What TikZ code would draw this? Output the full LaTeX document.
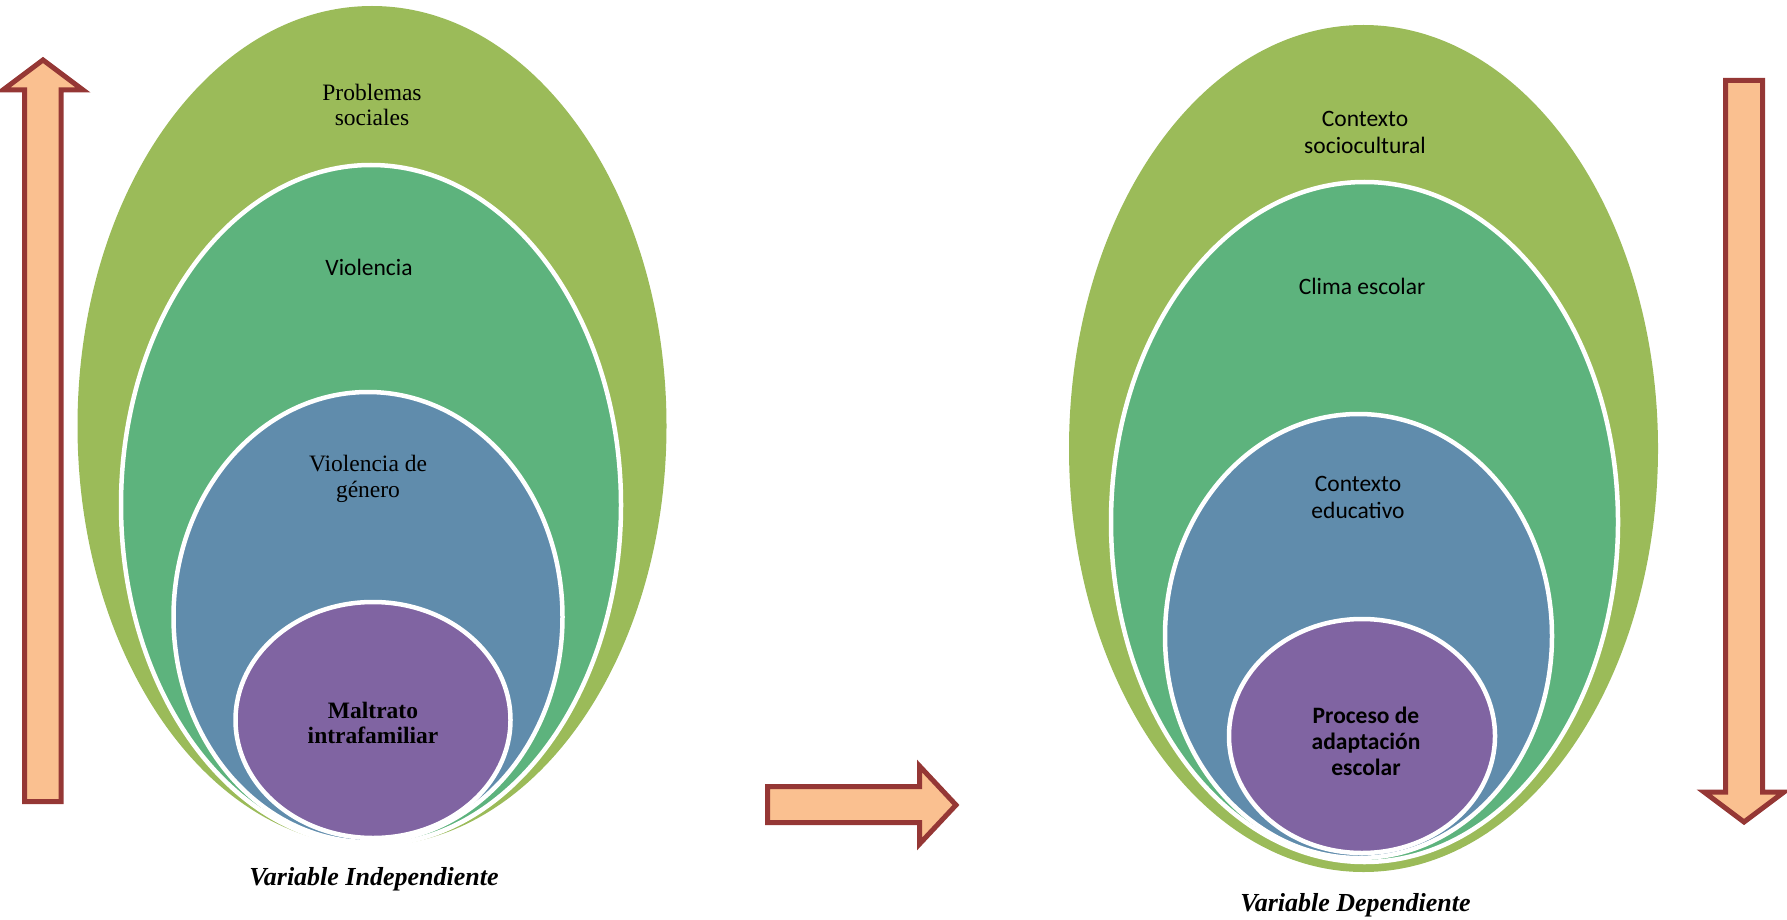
\documentclass[tikz,border=0pt]{standalone}
\usepackage{fontspec}
\setmainfont{Liberation Serif}
\newfontfamily\carlito{Carlito}
\usetikzlibrary{shapes.geometric}
\definecolor{olive}{RGB}{155,187,89}
\definecolor{tealg}{RGB}{93,179,125}
\definecolor{steel}{RGB}{96,140,172}
\definecolor{plum}{RGB}{128,100,162}
\definecolor{arrfill}{RGB}{250,192,144}
\definecolor{arrline}{RGB}{149,55,53}
\tikzset{
  ell/.style={ellipse, inner sep=0pt, outer sep=0pt},
  ringed/.style={ell, draw=white, line width=4.5pt},
  fatarrow/.style={fill=arrfill, draw=arrline, line width=5pt, line join=miter},
  lbl/.style={align=center, inner sep=0pt, text=black, font=\fontsize{23.5}{25.5}\selectfont},
  clbl/.style={align=center, inner sep=0pt, text=black, font=\carlito\fontsize{23.5}{27}\selectfont},
  caption/.style={inner sep=0pt, font=\fontsize{26}{28}\selectfont\bfseries\itshape}
}
\begin{document}
\begin{tikzpicture}[x=1pt,y=-1pt]
\useasboundingbox (0,0) rectangle (1787,920);
% left nest
\node[ell, fill=olive, minimum width=589pt, minimum height=840pt] (L1) at (372,426) {};
\node[ringed, fill=tealg, minimum width=500pt, minimum height=680pt] (L2) at (371,505) {};
\node[ringed, fill=steel, minimum width=389pt, minimum height=450pt] (L3) at (368,617) {};
\node[ringed, fill=plum, minimum width=275pt, minimum height=236pt] (L4) at (373,720) {};
\node[lbl] (t1) at (372,105) {Problemas\\sociales};
\node[clbl] (t2) at (369,267) {Violencia};
\node[lbl] (t3) at (368,479) {Violencia de\\género};
\node[lbl, font=\fontsize{23.5}{25.5}\selectfont\bfseries] (t4) at (373,723) {Maltrato\\intrafamiliar};
\node[caption] (capL) at (374,879) {Variable Independiente};
% right nest
\node[ell, fill=olive, minimum width=589pt, minimum height=847pt] (R1) at (1363.5,448.5) {};
\node[ringed, fill=tealg, minimum width=507pt, minimum height=680pt] (R2) at (1364.5,522) {};
\node[ringed, fill=steel, minimum width=387pt, minimum height=444pt] (R3) at (1358.5,636) {};
\node[ringed, fill=plum, minimum width=266pt, minimum height=234pt] (R4) at (1362,736) {};
\node[clbl] (u1) at (1365,132) {Contexto\\sociocultural};
\node[clbl] (u2) at (1362,286) {Clima escolar};
\node[clbl] (u3) at (1358,497) {Contexto\\educativo};
\node[clbl, font=\carlito\fontsize{23.5}{26}\selectfont\bfseries] (u4) at (1366,741) {Proceso de\\adaptación\\escolar};
\node[caption] (capR) at (1355.5,905) {Variable Dependiente};
% arrows
\draw[fatarrow] (24.5,801.5) -- (24.5,90) -- (3,90) -- (43,60) -- (83,90) -- (61,90) -- (61,801.5) -- cycle;
\draw[fatarrow] (1725.5,80.5) -- (1762.5,80.5) -- (1762.5,792) -- (1784,792) -- (1744,822) -- (1704,792) -- (1725.5,792) -- cycle;
\draw[fatarrow] (767.5,786.5) -- (919.5,786.5) -- (919.5,766) -- (956,805) -- (919.5,844) -- (919.5,822.5) -- (767.5,822.5) -- cycle;
\end{tikzpicture}
\end{document}
